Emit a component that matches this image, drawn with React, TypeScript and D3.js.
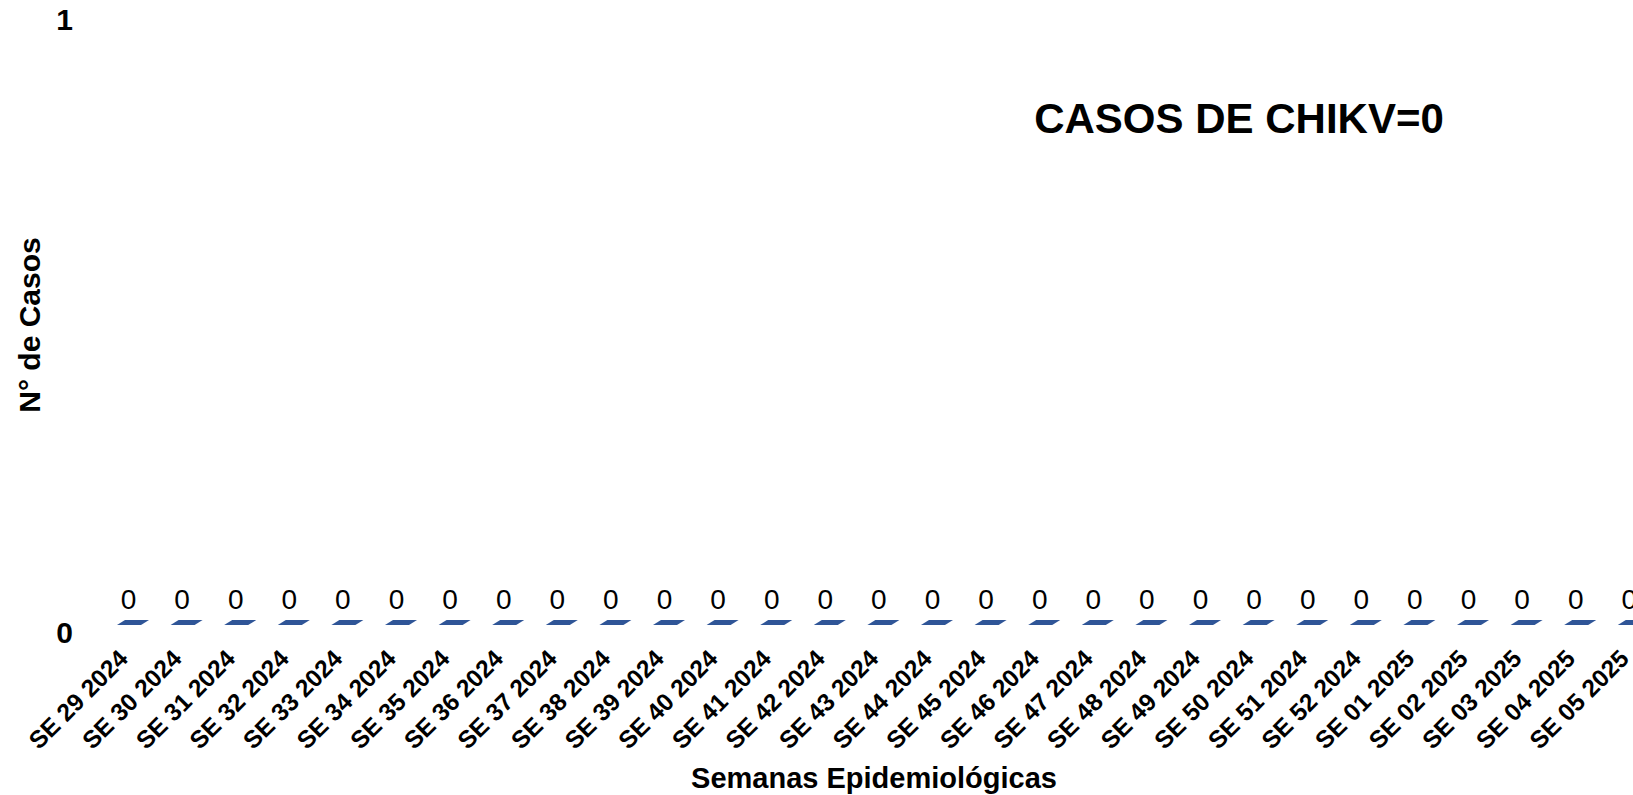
import React from "react";
import * as d3 from "d3";

const weeks: string[] = [
  "SE 29 2024", "SE 30 2024", "SE 31 2024", "SE 32 2024", "SE 33 2024", "SE 34 2024",
  "SE 35 2024", "SE 36 2024", "SE 37 2024", "SE 38 2024", "SE 39 2024", "SE 40 2024",
  "SE 41 2024", "SE 42 2024", "SE 43 2024", "SE 44 2024", "SE 45 2024", "SE 46 2024",
  "SE 47 2024", "SE 48 2024", "SE 49 2024", "SE 50 2024", "SE 51 2024", "SE 52 2024",
  "SE 01 2025", "SE 02 2025", "SE 03 2025", "SE 04 2025", "SE 05 2025",
];
const cases: number[] = [
  0, 0, 0, 0, 0, 0, 0, 0, 0, 0, 0, 0, 0, 0, 0, 0, 0, 0, 0, 0, 0, 0, 0, 0, 0, 0, 0, 0, 0,
];
const yTicks: number[] = [0, 1];
const chartTitle = "CASOS DE CHIKV=0";
const xTitle = "Semanas Epidemiológicas";
const yTitle = "N° de Casos";

const W = 1633;
const H = 795;
const FONT = "'Liberation Sans', Arial, Helvetica, sans-serif";
const BAR = "#2f5597";

export default function App() {
  const x = d3.scaleBand<string>().domain(weeks).range([104.2, 104.2 + 53.6 * weeks.length]).padding(0);
  const y = d3.scaleLinear().domain([0, 1]).range([625, 12]);
  const half = 12;
  const dx = 8;
  const dy = 5;

  return (
    <svg
      width={W}
      height={H}
      style={{ position: "absolute", left: 0, top: 0, background: "#fff" }}
      fontFamily={FONT}
    >
      <rect x={0} y={0} width={W} height={H} fill="#fff" />
      {/* y tick labels */}
      {yTicks.map((t) => (
        <text
          key={t}
          x={73}
          y={y(t) + 7}
          textAnchor="end"
          dominantBaseline="central"
          fontSize={30}
          fontWeight="bold"
        >
          {t}
        </text>
      ))}
      {/* bars */}
      {weeks.map((w, i) => {
        const c = (x(w) as number) + x.bandwidth() / 2;
        const v = cases[i];
        const y0 = y(0);
        const yv = y(v);
        const xl = c - half - 2;
        const xr = c + half - 2;
        const top = `M${xl},${yv} L${xr},${yv} L${xr + dx},${yv - dy} L${xl + dx},${yv - dy} Z`;
        return (
          <g key={w}>
            {yv < y0 && <rect x={xl} y={yv} width={xr - xl} height={y0 - yv} fill={BAR} />}
            <path d={top} fill={BAR} />
            <text x={c - 2.5} y={yv - 16} textAnchor="middle" fontSize={28}>
              {v}
            </text>
          </g>
        );
      })}
      {/* x tick labels */}
      {weeks.map((w) => {
        const c = (x(w) as number) + x.bandwidth() / 2;
        return (
          <text
            key={w}
            transform={`translate(${c - 1.5},${660}) rotate(-45)`}
            textAnchor="end"
            fontSize={24.5}
            fontWeight="bold"
          >
            {w}
          </text>
        );
      })}
      {/* titles */}
      <text x={1239} y={133} textAnchor="middle" fontSize={42} fontWeight="bold">
        {chartTitle}
      </text>
      <text x={874} y={788} textAnchor="middle" fontSize={29} fontWeight="bold">
        {xTitle}
      </text>
      <text
        transform={`translate(40,325) rotate(-90)`}
        textAnchor="middle"
        fontSize={30}
        fontWeight="bold"
      >
        {yTitle}
      </text>
    </svg>
  );
}
